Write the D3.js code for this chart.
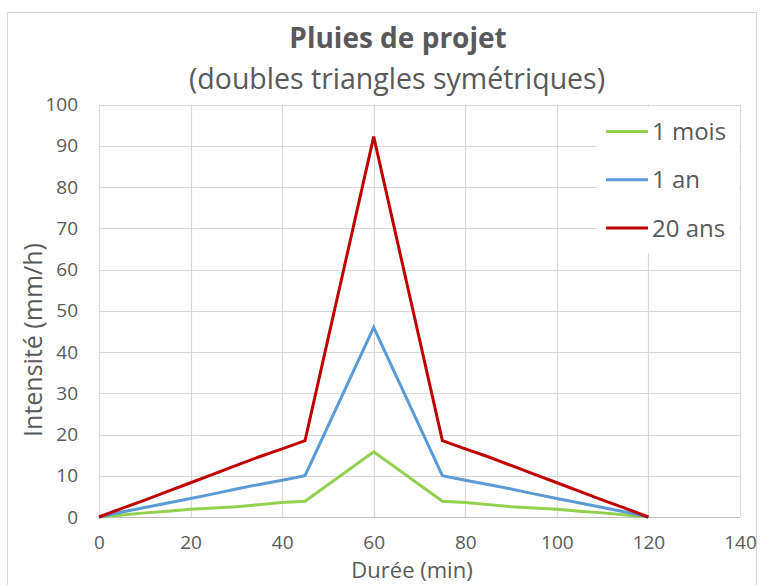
<!DOCTYPE html>
<html><head><meta charset="utf-8">
<script src="https://cdn.jsdelivr.net/npm/d3@7"></script>
<style>body{margin:0;background:#fff}svg{display:block}text{font-family:"Open Sans",sans-serif;fill:#595959}</style>
</head><body><svg id="c" width="760" height="585"></svg>
<script>
const durations = [0,5,10,15,20,25,30,35,40,45,60,75,80,85,90,95,100,105,110,115,120];
const mois1 = [0,0.5,1.0,1.4,1.9,2.2,2.5,3.0,3.5,3.8,15.8,3.8,3.5,3.0,2.5,2.2,1.9,1.4,1.0,0.5,0];
const an1   = [0,1.2,2.3,3.4,4.5,5.6,6.8,7.9,8.9,10.0,46.0,10.0,8.9,7.9,6.8,5.6,4.5,3.4,2.3,1.2,0];
const ans20 = [0,2.1,4.1,6.2,8.3,10.4,12.5,14.6,16.5,18.5,92.2,18.5,16.5,14.6,12.5,10.4,8.3,6.2,4.1,2.1,0];
const seriesNames = ["1 mois","1 an","20 ans"];
const seriesColors = ["#92d050","#5b9bd5","#c00000"];
const xTicks = [0,20,40,60,80,100,120,140];
const yTicks = [0,10,20,30,40,50,60,70,80,90,100];
const title = "Pluies de projet";
const subtitle = "(doubles triangles symétriques)";
const xTitle = "Durée (min)";
const yTitle = "Intensité (mm/h)";

const svg = d3.select("#c");
const m = {l:99, r:740, t:104.5, b:517};
const x = d3.scaleLinear().domain([0,140]).range([m.l,m.r]);
const y = d3.scaleLinear().domain([0,100]).range([m.b,m.t]);

svg.append("rect").attr("x",7.5).attr("y",12.5).attr("width",749).attr("height",580)
  .attr("fill","#fff").attr("stroke","#d9d9d9");

// gridlines
svg.append("g").selectAll("line.h").data(yTicks).join("line")
  .attr("x1",m.l).attr("x2",m.r).attr("y1",d=>Math.round(y(d))+0.5).attr("y2",d=>Math.round(y(d))+0.5)
  .attr("stroke","#d9d9d9").attr("stroke-width",1.2);
svg.append("g").selectAll("line.v").data(xTicks).join("line")
  .attr("y1",m.t).attr("y2",m.b).attr("x1",d=>Math.round(x(d))+0.5).attr("x2",d=>Math.round(x(d))+0.5)
  .attr("stroke","#d9d9d9").attr("stroke-width",1.2);
svg.append("line").attr("x1",m.l).attr("x2",m.r).attr("y1",Math.round(y(0))+0.5).attr("y2",Math.round(y(0))+0.5)
  .attr("stroke","#bfbfbf").attr("stroke-width",1.2);

// axes
const xAxis = svg.append("g").attr("transform",`translate(0,${m.b})`)
  .call(d3.axisBottom(x).tickValues(xTicks).tickSize(0).tickPadding(19));
xAxis.select(".domain").remove();
xAxis.selectAll("text").style("font-size","19px").attr("fill","#595959");
const yAxis = svg.append("g").attr("transform",`translate(${m.l},0)`)
  .call(d3.axisLeft(y).tickValues(yTicks).tickSize(0).tickPadding(21));
yAxis.select(".domain").remove();
yAxis.selectAll("text").style("font-size","19px").attr("fill","#595959");

// lines
const data = [mois1, an1, ans20];
const line = d3.line().x((d,i)=>x(durations[i])).y(d=>y(d));
svg.append("g").selectAll("path").data(data).join("path")
  .attr("d",d=>line(d)).attr("fill","none")
  .attr("stroke",(d,i)=>seriesColors[i]).attr("stroke-width",3).attr("stroke-linejoin","miter");

// titles
svg.append("text").attr("x",398).attr("y",48).attr("text-anchor","middle")
  .style("font-size","28px").style("font-weight","bold").text(title);
svg.append("text").attr("x",397).attr("y",89).attr("text-anchor","middle")
  .style("font-size","28.5px").text(subtitle);
svg.append("text").attr("x",412).attr("y",578).attr("text-anchor","middle")
  .style("font-size","22px").text(xTitle);
svg.append("text").attr("transform","translate(42,340) rotate(-90)").attr("text-anchor","middle")
  .style("font-size","25px").text(yTitle);

// legend
const lg = svg.append("g");
lg.append("rect").attr("x",597).attr("y",107).attr("width",142).attr("height",146).attr("fill","#fff");
const items = lg.selectAll("g").data(seriesNames).join("g")
  .attr("transform",(d,i)=>`translate(606,${131.5+i*48.3})`);
items.append("line").attr("x1",0).attr("x2",42).attr("stroke",(d,i)=>seriesColors[i]).attr("stroke-width",3);
items.append("text").attr("x",46).attr("y",8.5).style("font-size","24px").text(d=>d);
</script></body></html>
